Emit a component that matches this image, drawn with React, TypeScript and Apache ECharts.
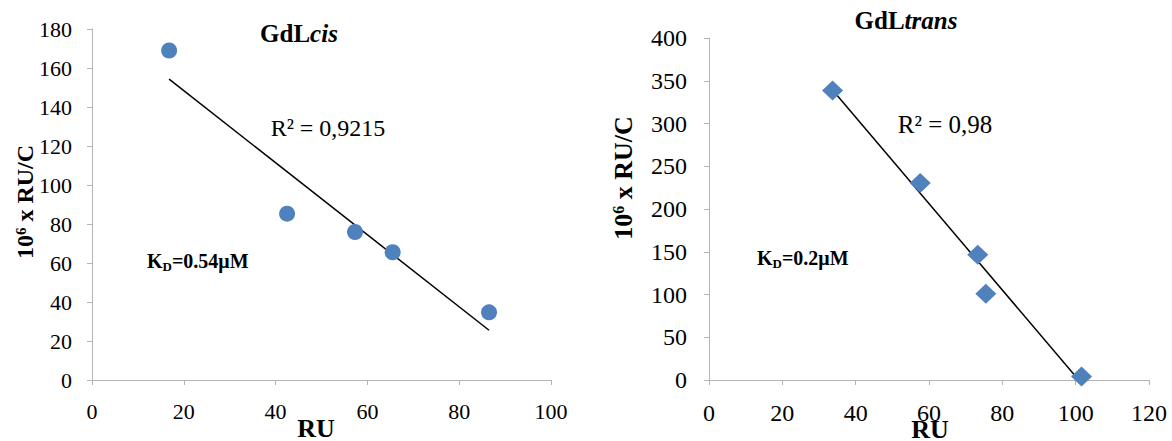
import React, { useEffect, useRef } from "react";
import * as echarts from "echarts";

const cisRU = [16.8, 42.5, 57.3, 65.5, 86.5];
const cisRUC = [169, 85.3, 75.9, 65.5, 34.7];
const transRU = [33.7, 57.6, 73.3, 75.5, 101.6];
const transRUC = [338.7, 230.4, 146.5, 100.9, 4.2];

const titleCis = "GdL";
const titleCisIt = "cis";
const titleTrans = "GdL";
const titleTransIt = "trans";
const r2Cis = "R² = 0,9215";
const r2Trans = "R² = 0,98";
const kdCis = "=0.54μM";
const kdTrans = "=0.2μM";

const FONT = "Liberation Serif";
const AXIS_GRAY = "#b4b4b4";
const MARK = "#4F81BD";

function fit(xs: number[], ys: number[]) {
  const n = xs.length;
  const mx = xs.reduce((a, b) => a + b, 0) / n;
  const my = ys.reduce((a, b) => a + b, 0) / n;
  let sxy = 0, sxx = 0;
  for (let i = 0; i < n; i++) {
    sxy += (xs[i] - mx) * (ys[i] - my);
    sxx += (xs[i] - mx) * (xs[i] - mx);
  }
  const b = sxy / sxx;
  const a = my - b * mx;
  const x0 = Math.min(...xs), x1 = Math.max(...xs);
  return [[x0, a + b * x0], [x1, a + b * x1]];
}

function label(fs: number, margin: number) {
  return {
    color: "#000", fontFamily: FONT, fontSize: fs, margin,
    formatter: (v: number) => "{t|" + v + "}",
    rich: { t: { fontFamily: FONT, fontSize: fs, color: "#000" } },
  };
}

function axisX(gridIndex: number, max: number, fs: number, margin: number) {
  return {
    type: "value", gridIndex, min: 0, max, interval: 20,
    splitLine: { show: false },
    axisLine: { show: true, onZero: false, lineStyle: { color: AXIS_GRAY, width: 1 } },
    axisTick: { show: true, length: 5, lineStyle: { color: AXIS_GRAY } },
    axisLabel: label(fs, margin),
  };
}
function axisY(gridIndex: number, max: number, interval: number, fs: number, margin: number) {
  return {
    type: "value", gridIndex, min: 0, max, interval,
    splitLine: { show: false },
    axisLine: { show: true, onZero: false, lineStyle: { color: AXIS_GRAY, width: 1 } },
    axisTick: { show: true, length: 5, lineStyle: { color: AXIS_GRAY } },
    axisLabel: label(fs, margin),
  };
}

function yName(x: number, y: number, fs: number) {
  return {
    type: "text", x, y, rotation: Math.PI / 2,
    style: {
      text: "{a|10}{s|6}{a| x RU/C}",
      align: "center", verticalAlign: "middle",
      fill: "#000",
      rich: {
        a: { fontFamily: FONT, fontWeight: "bold", fontSize: fs, lineHeight: fs, verticalAlign: "bottom", fill: "#000" },
        s: { fontFamily: FONT, fontWeight: "bold", fontSize: Math.round(fs * 0.62), lineHeight: Math.round(fs * 0.62), verticalAlign: "top", fill: "#000" },
      },
    },
  };
}

function kd(x: number, y: number, rest: string, fs: number) {
  return {
    type: "text", x, y,
    style: {
      text: "{a|K}{d|D}{a|" + rest + "}",
      align: "left", verticalAlign: "middle",
      fill: "#000",
      rich: {
        a: { fontFamily: FONT, fontWeight: "bold", fontSize: fs, lineHeight: fs, verticalAlign: "top", fill: "#000" },
        d: { fontFamily: FONT, fontWeight: "bold", fontSize: Math.round(fs * 0.65), lineHeight: Math.round(fs * 0.65), padding: [Math.round(fs * 0.45), 0, 0, 0], verticalAlign: "top", fill: "#000" },
      },
    },
  };
}

function title(x: number, y: number, main: string, it: string, fs: number) {
  return {
    type: "text", x, y,
    style: {
      text: "{b|" + main + "}{i|" + it + "}",
      align: "center", verticalAlign: "middle",
      fill: "#000",
      rich: {
        b: { fontFamily: FONT, fontWeight: "bold", fontSize: fs, fill: "#000" },
        i: { fontFamily: FONT, fontWeight: "bold", fontStyle: "italic", fontSize: fs, fill: "#000" },
      },
    },
  };
}

function plain(x: number, y: number, text: string, fs: number, bold: boolean) {
  return {
    type: "text", x, y,
    style: {
      text, align: "center", verticalAlign: "middle",
      fontFamily: FONT, fontSize: fs, fontWeight: bold ? "bold" : "normal", fill: "#000",
    },
  };
}

export default function App() {
  const ref = useRef<HTMLDivElement>(null);
  useEffect(() => {
    if (!ref.current) return;
    const chart = echarts.init(ref.current, null, { renderer: "svg" });
    const cisPts = cisRU.map((x, i) => [x, cisRUC[i]]);
    const transPts = transRU.map((x, i) => [x, transRUC[i]]);
    chart.setOption({
      animation: false,
      backgroundColor: "#fff",
      textStyle: { fontFamily: FONT },
      grid: [
        { left: 92, top: 29, width: 459, height: 351 },
        { left: 709, top: 38, width: 440, height: 342 },
      ],
      xAxis: [axisX(0, 100, 22, 20), axisX(1, 120, 24, 21)],
      yAxis: [axisY(0, 180, 20, 22, 20), axisY(1, 400, 50, 24, 22)],
      series: [
        {
          type: "line", xAxisIndex: 0, yAxisIndex: 0, data: fit(cisRU, cisRUC),
          symbol: "none", lineStyle: { color: "#000", width: 1.5 }, clip: true, z: 2,
        },
        {
          type: "scatter", xAxisIndex: 0, yAxisIndex: 0, data: cisPts,
          symbol: "circle", symbolSize: 16, itemStyle: { color: MARK, opacity: 1 }, z: 3,
        },
        {
          type: "line", xAxisIndex: 1, yAxisIndex: 1, data: fit(transRU, transRUC),
          symbol: "none", lineStyle: { color: "#000", width: 1.5 }, clip: true, z: 2,
        },
        {
          type: "scatter", xAxisIndex: 1, yAxisIndex: 1, data: transPts,
          symbol: "diamond", symbolSize: [21, 20], itemStyle: { color: MARK, opacity: 1 }, z: 3,
        },
      ],
      graphic: [
        title(299, 33, titleCis, titleCisIt, 25),
        title(906, 20, titleTrans, titleTransIt, 25),
        plain(328, 128, r2Cis, 24, false),
        plain(945, 124, r2Trans, 25, false),
        kd(147, 261, kdCis, 20),
        kd(757, 258, kdTrans, 20),
        plain(316, 428, "RU", 26, true),
        plain(930, 429, "RU", 26, true),
        yName(25, 202, 24),
        yName(623, 178, 26),
      ],
    });
    return () => chart.dispose();
  }, []);
  return (
    <div
      ref={ref}
      style={{ position: "fixed", left: 0, top: 0, width: 1172, height: 441, background: "#fff" }}
    />
  );
}
